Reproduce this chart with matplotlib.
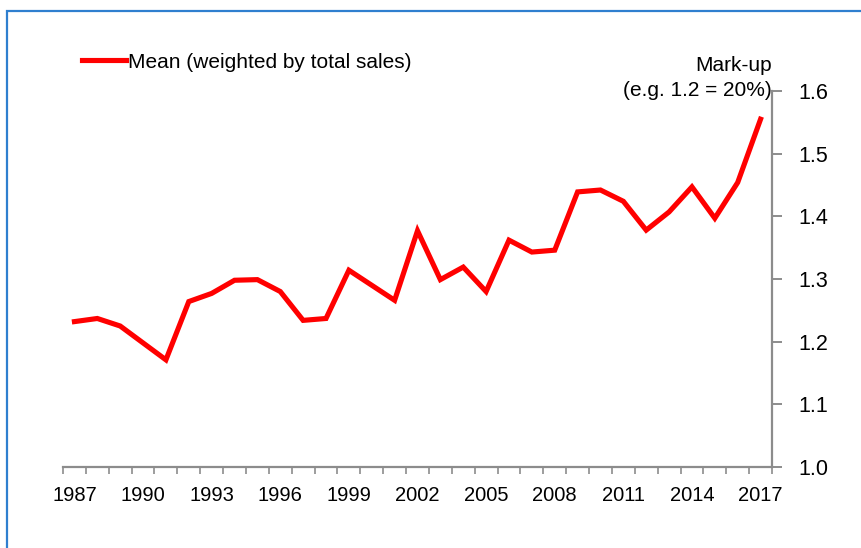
import matplotlib.pyplot as plt
from matplotlib.patches import Rectangle

plt.rcParams['font.family'] = ['Liberation Sans', 'DejaVu Sans']

# datos
years = list(range(1987, 2018))
markup = [1.232, 1.237, 1.225, 1.198, 1.171, 1.264, 1.277, 1.298, 1.299, 1.280,
          1.234, 1.237, 1.314, 1.290, 1.266, 1.377, 1.299, 1.319, 1.280, 1.362,
          1.343, 1.346, 1.439, 1.442, 1.424, 1.378, 1.407, 1.447, 1.397, 1.454,
          1.555]
year_labels = list(range(1987, 2018, 3))
series_name = 'Mean (weighted by total sales)'
ylabel_text = 'Mark-up\n(e.g. 1.2 = 20%)'

fig = plt.figure(figsize=(8.62, 5.48), dpi=100)
ax = fig.add_axes([63/862, 81/548, (772-63)/862, (467-91)/548])

ax.plot(years, markup, color='#ff0000', lw=3.7, label=series_name,
        solid_joinstyle='miter')

ax.set_xlim(1986.5, 2017.5)
ax.set_ylim(1.0, 1.6)

grey = '#8c8c8c'
for s in ['left', 'top']:
    ax.spines[s].set_visible(False)
for s in ['right', 'bottom']:
    ax.spines[s].set_color(grey)
    ax.spines[s].set_linewidth(1.6)

ax.set_xticks(year_labels)
ax.set_xticklabels([str(y) for y in year_labels])
ax.set_xticks([y - 0.5 for y in years] + [2017.5], minor=True)
ax.tick_params(axis='x', which='major', length=0, pad=14, labelsize=14.5)
ax.tick_params(axis='x', which='minor', length=5, width=1.2, color=grey,
               direction='out')

ax.yaxis.tick_right()
ax.set_yticks([1.0, 1.1, 1.2, 1.3, 1.4, 1.5, 1.6])
ax.set_yticklabels(['1.0', '1.1', '1.2', '1.3', '1.4', '1.5', '1.6'])
ax.tick_params(axis='y', which='major', length=7, width=1.4, color=grey,
               direction='out', pad=12, labelsize=15.5)

ax.text(1.0, 0.975, ylabel_text, transform=ax.transAxes, ha='right', va='bottom',
        multialignment='right', fontsize=15, linespacing=1.4)

fig.legend(loc='center left', bbox_to_anchor=(82/862, 1 - 62/548),
           frameon=False, fontsize=15, handlelength=2.1, handletextpad=0.1,
           borderpad=0, borderaxespad=0)

# marco azul
fig.patches.append(Rectangle((7/862, -0.1), 1.2, 1.1 - 11/548,
                             transform=fig.transFigure, fill=False,
                             edgecolor='#2f7fcf', lw=1.6))

fig.savefig('out.png', dpi=100)
